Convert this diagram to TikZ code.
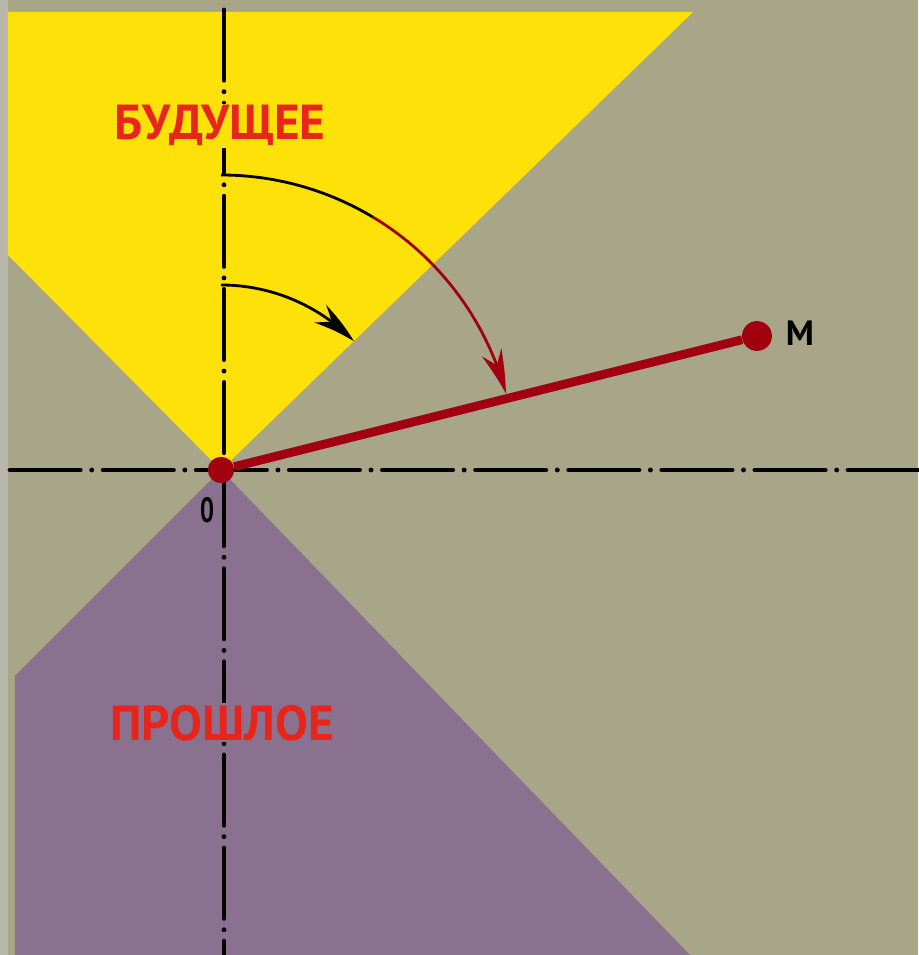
\documentclass[tikz,border=0pt]{standalone}
\usepackage{fontspec}
\setsansfont{PT Sans}
\usetikzlibrary{arrows.meta, bending}
\definecolor{PaperGray}{HTML}{A9A588}
\definecolor{EdgeGray}{HTML}{B9B7A9}
\definecolor{FutureYellow}{HTML}{FFE10A}
\definecolor{PastPurple}{HTML}{8B7190}
\definecolor{LabelRed}{HTML}{E8251A}
\definecolor{WorldRed}{HTML}{A1000F}

\begin{document}
\begin{tikzpicture}[
    x=0.02cm, y=0.02cm,
    axis/.style={line width=2.8pt, line cap=round, dash pattern=on 40pt off 6.5pt on 0pt off 6.5pt},
    event/.style={circle, fill=WorldRed, inner sep=0pt},
    conelabel/.style={font=\sffamily\bfseries\fontsize{28}{28}\selectfont, text=LabelRed, inner sep=1pt},
    pointlabel/.style={font=\sffamily\bfseries\fontsize{20}{20}\selectfont},
    sweep/.style={line width=1.6pt, -{Stealth[length=25pt, width=12pt, inset=8pt, bend]}}
]
  % Paper
  \fill[PaperGray] (-221,-485) rectangle (697,470);
  \fill[EdgeGray] (-221,-485) rectangle (-213,470);
  \useasboundingbox (-221,-485) rectangle (697,470);

  % Future cone
  \fill[FutureYellow] (-213,215) -- (-213,458) -- (472,458) -- (0,0) -- cycle;
  % Past cone
  \fill[PastPurple] (0,0) -- (-206,-206) -- (-206,-485) -- (469,-485) -- cycle;

  % Axes
  \draw[axis] (3,460) -- (3,-485);
  \draw[axis] (-211,0) -- (697,0);

  % Cone labels
  \node[conelabel, fill=FutureYellow, anchor=base] (future) at (-1,330) {БУДУЩЕЕ};
  \node[conelabel, fill=PastPurple, anchor=base] (past) at (1,-270) {ПРОШЛОЕ};

  % Events and world line
  \node[event, minimum size=15pt] (O) at (0,0) {};
  \node[event, minimum size=17pt] (M) at (536,134) {};
  \draw[WorldRed, line width=5pt] (O) -- (M);
  \node[pointlabel, xscale=0.7] (zero) at (-14,-40) {0};
  \node[pointlabel] (mlabel) at (579,137) {M};

  % Angle sweeps
  \coordinate (inner) at (0,185);
  \coordinate (outer) at (0,295);
  \coordinate (bend) at (59:295);
  \draw[sweep] (inner) arc[start angle=90, end angle=44, radius=185];
  \draw[line width=1.6pt] (outer) arc[start angle=90, end angle=59, radius=295];
  \draw[sweep, WorldRed] (bend) arc[start angle=59, end angle=15, radius=295];
\end{tikzpicture}
\end{document}
